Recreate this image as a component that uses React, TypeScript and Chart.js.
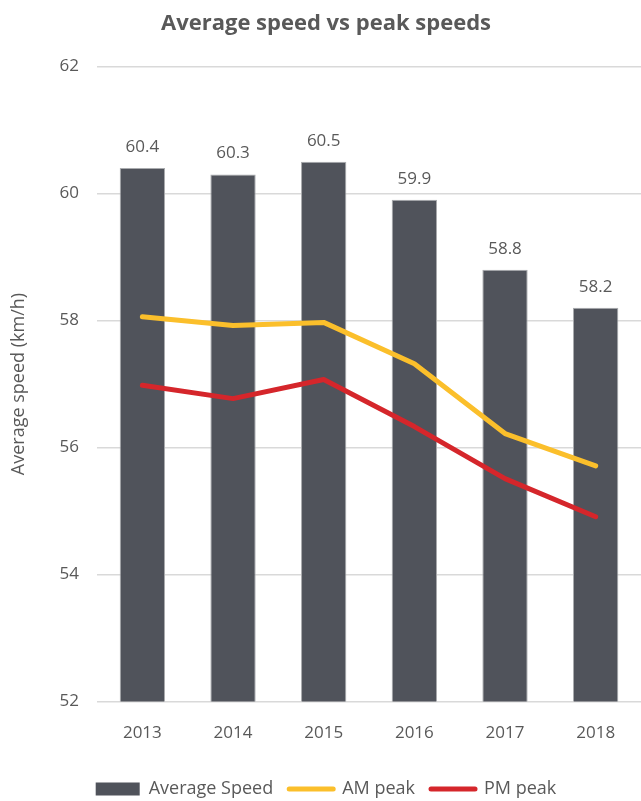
import React, { useEffect, useRef } from "react";
import { Chart, registerables } from "chart.js";

Chart.register(...registerables);

const years = ["2013", "2014", "2015", "2016", "2017", "2018"];
const averageSpeed = [60.4, 60.3, 60.5, 59.9, 58.8, 58.2];
const amPeak = [58.06, 57.92, 57.97, 57.32, 56.22, 55.71];
const pmPeak = [56.98, 56.77, 57.07, 56.33, 55.51, 54.91];
const yTicks = [52, 54, 56, 58, 60, 62];

const FONT = "'Open Sans', 'DejaVu Sans', sans-serif";
const TEXT = "#595959";

const barLabels = {
  id: "barLabels",
  afterDatasetsDraw(chart: any) {
    const meta = chart.getDatasetMeta(0);
    const ctx = chart.ctx;
    ctx.save();
    ctx.font = `17px ${FONT}`;
    ctx.fillStyle = TEXT;
    ctx.textAlign = "center";
    ctx.textBaseline = "middle";
    meta.data.forEach((el: any, i: number) => {
      ctx.fillText(averageSpeed[i].toFixed(1), el.x, el.y - 21);
    });
    ctx.restore();
  },
};

export default function App() {
  const ref = useRef<HTMLCanvasElement>(null);
  useEffect(() => {
    document.body.style.margin = "0";
    const chart = new Chart(ref.current!, {
      type: "bar",
      data: {
        labels: years,
        datasets: [
          {
            type: "bar",
            label: "Average Speed",
            data: averageSpeed,
            backgroundColor: "#50535b",
            borderColor: "#a9abae",
            borderWidth: 1,
            categoryPercentage: 1,
            barPercentage: 0.5,
            order: 1,
          },
          {
            type: "line",
            label: "AM peak",
            data: amPeak,
            borderColor: "#fbbf2b",
            backgroundColor: "#fbbf2b",
            borderWidth: 5,
            pointRadius: 0,
            pointHoverRadius: 0,
            pointStyle: "line",
            pointBorderWidth: 5,
            pointBorderColor: "#fbbf2b",
            borderCapStyle: "round",
            borderJoinStyle: "round",
            tension: 0,
            order: 0,
          } as any,
          {
            type: "line",
            label: "PM peak",
            data: pmPeak,
            borderColor: "#d5262b",
            backgroundColor: "#d5262b",
            borderWidth: 5,
            pointRadius: 0,
            pointHoverRadius: 0,
            pointStyle: "line",
            pointBorderWidth: 5,
            pointBorderColor: "#d5262b",
            borderCapStyle: "round",
            borderJoinStyle: "round",
            tension: 0,
            order: 0,
          } as any,
        ],
      },
      options: {
        responsive: false,
        animation: false,
        layout: { padding: { left: 8, right: -3, top: 0, bottom: -7 } },
        plugins: {
          title: {
            display: true,
            text: "Average speed vs peak speeds",
            color: TEXT,
            font: { family: FONT, size: 22, weight: "bold" },
            padding: { top: 11, bottom: 29 },
          },
          legend: {
            position: "bottom",
            labels: {
              usePointStyle: true,
              pointStyleWidth: 44,
              boxHeight: 13,
              padding: 16,
              color: TEXT,
              font: { family: FONT, size: 18 },
              sort: (a: any, b: any) => a.datasetIndex - b.datasetIndex,
              generateLabels: (chart: any) =>
                Chart.defaults.plugins.legend.labels
                  .generateLabels(chart)
                  .map((l: any) =>
                    l.datasetIndex === 0
                      ? { ...l, pointStyle: "rect", lineWidth: 0, fillStyle: "#50535b", strokeStyle: "#50535b" }
                      : { ...l, lineCap: "round", lineWidth: 5 }
                  ),
            },
          },
          tooltip: { enabled: false },
        },
        scales: {
          x: {
            grid: { display: false, drawTicks: false },
            border: { display: false },
            ticks: { color: TEXT, font: { family: FONT, size: 17 }, padding: 21 },
          },
          y: {
            min: 52,
            max: 62,
            afterBuildTicks: (axis: any) => {
              axis.ticks = yTicks.map((v) => ({ value: v }));
            },
            grid: { color: "#d9d9d9", lineWidth: 1.5, drawTicks: false },
            border: { display: false },
            ticks: { color: TEXT, font: { family: FONT, size: 17 }, padding: 18 },
            title: {
              display: true,
              text: "Average speed (km/h)",
              color: TEXT,
              font: { family: FONT, size: 18 },
              padding: { top: 0, bottom: 12 },
            },
          },
        },
      },
      plugins: [barLabels],
    });
    return () => chart.destroy();
  }, []);
  return <canvas ref={ref} width={641} height={801} />;
}
